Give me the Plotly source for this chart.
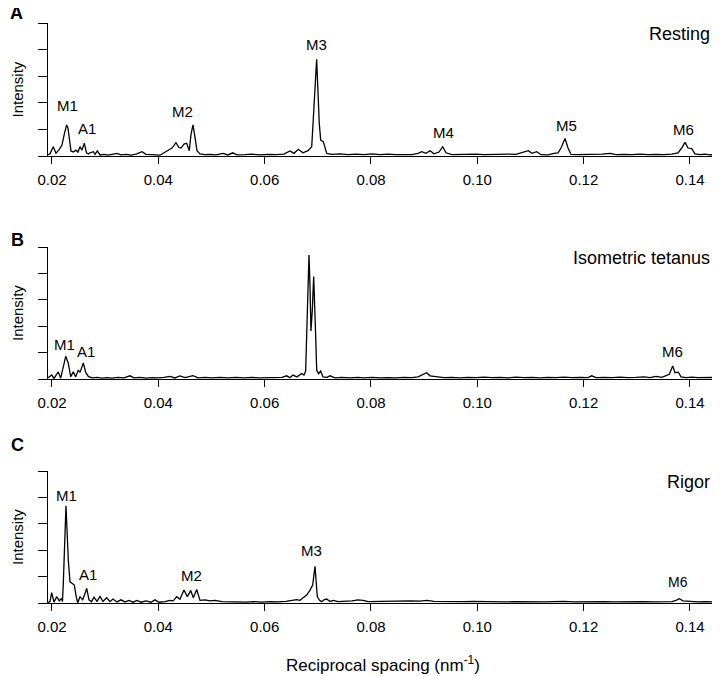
import plotly.graph_objects as go

# reciprocal spacing (nm^-1) and intensity
x_rest = [0.01925, 0.01962, 0.02024, 0.02075, 0.02137, 0.02188, 0.02235, 0.02276, 0.02301, 0.02325,
          0.02357, 0.02401, 0.02451, 0.02489, 0.02527, 0.02564, 0.02608, 0.02649, 0.02687, 0.02715,
          0.02777, 0.02809, 0.02852, 0.02903, 0.02978, 0.03053, 0.03129, 0.03223, 0.03298, 0.03392,
          0.03486, 0.03580, 0.03693, 0.03768, 0.03862, 0.03956, 0.04031, 0.04107, 0.04182, 0.04257,
          0.04332, 0.04388, 0.04426, 0.04483, 0.04533, 0.04582, 0.04614, 0.04652, 0.04690, 0.04727,
          0.04784, 0.04878, 0.04972, 0.05085, 0.05216, 0.05310, 0.05399, 0.05480, 0.05630, 0.05762,
          0.05912, 0.06063, 0.06213, 0.06364, 0.06476, 0.06552, 0.06633, 0.06721, 0.06815, 0.06885,
          0.06928, 0.06978, 0.07027, 0.07054, 0.07103, 0.07167, 0.07266, 0.07417, 0.07567, 0.07718,
          0.07868, 0.08019, 0.08169, 0.08320, 0.08470, 0.08620, 0.08771, 0.08884, 0.08954, 0.09035,
          0.09110, 0.09185, 0.09279, 0.09349, 0.09411, 0.09523, 0.09674, 0.09824, 0.09975, 0.10125,
          0.10276, 0.10426, 0.10577, 0.10727, 0.10840, 0.10959, 0.11028, 0.11117, 0.11198, 0.11329,
          0.11442, 0.11518, 0.11574, 0.11649, 0.11706, 0.11762, 0.11894, 0.12044, 0.12194, 0.12345,
          0.12495, 0.12608, 0.12759, 0.12909, 0.13060, 0.13210, 0.13361, 0.13511, 0.13662, 0.13775,
          0.13844, 0.13906, 0.13963, 0.14032, 0.14094, 0.14188, 0.14282, 0.14376, 0.14470, 0.14508]
i_rest = [0.05, 0.08, 0.35, 0.10, 0.25, 0.41, 0.85, 1.17, 1.05, 0.60,
          0.19, 0.15, 0.22, 0.15, 0.35, 0.22, 0.48, 0.12, 0.08, 0.12,
          0.16, 0.06, 0.19, 0.04, 0.06, 0.03, 0.07, 0.10, 0.04, 0.06,
          0.03, 0.07, 0.16, 0.06, 0.05, 0.04, 0.03, 0.12, 0.20, 0.30,
          0.50, 0.32, 0.30, 0.45, 0.48, 0.20, 0.80, 1.17, 0.70, 0.20,
          0.08, 0.05, 0.06, 0.04, 0.10, 0.04, 0.12, 0.04, 0.05, 0.07,
          0.04, 0.06, 0.05, 0.07, 0.19, 0.10, 0.25, 0.12, 0.20, 0.35,
          1.85, 3.64, 1.23, 0.60, 0.54, 0.10, 0.06, 0.08, 0.05, 0.07,
          0.05, 0.08, 0.05, 0.07, 0.05, 0.06, 0.05, 0.10, 0.16, 0.10,
          0.20, 0.08, 0.15, 0.35, 0.12, 0.05, 0.06, 0.05, 0.07, 0.05,
          0.06, 0.05, 0.07, 0.06, 0.12, 0.20, 0.10, 0.16, 0.05, 0.04,
          0.10, 0.12, 0.30, 0.66, 0.30, 0.06, 0.05, 0.06, 0.05, 0.07,
          0.10, 0.05, 0.06, 0.05, 0.07, 0.05, 0.06, 0.05, 0.07, 0.12,
          0.30, 0.51, 0.30, 0.28, 0.08, 0.05, 0.07, 0.04, 0.06, 0.05]

x_tet = [0.01925, 0.01994, 0.02038, 0.02118, 0.02164, 0.02201, 0.02231, 0.02258, 0.02307, 0.02352,
         0.02401, 0.02446, 0.02495, 0.02527, 0.02589, 0.02634, 0.02683, 0.02752, 0.02846, 0.02940,
         0.03034, 0.03129, 0.03241, 0.03354, 0.03467, 0.03542, 0.03655, 0.03768, 0.03881, 0.03994,
         0.04107, 0.04219, 0.04313, 0.04407, 0.04502, 0.04652, 0.04746, 0.04878, 0.05009, 0.05160,
         0.05310, 0.05461, 0.05611, 0.05762, 0.05912, 0.06063, 0.06213, 0.06326, 0.06414, 0.06476,
         0.06533, 0.06608, 0.06696, 0.06739, 0.06771, 0.06790, 0.06815, 0.06834, 0.06853, 0.06871,
         0.06896, 0.06922, 0.06952, 0.06979, 0.07013, 0.07054, 0.07097, 0.07172, 0.07229, 0.07323,
         0.07454, 0.07605, 0.07755, 0.07868, 0.08019, 0.08169, 0.08320, 0.08470, 0.08620, 0.08771,
         0.08884, 0.08978, 0.09048, 0.09110, 0.09223, 0.09373, 0.09523, 0.09674, 0.09824, 0.09975,
         0.10125, 0.10276, 0.10426, 0.10577, 0.10727, 0.10878, 0.11028, 0.11179, 0.11329, 0.11480,
         0.11630, 0.11781, 0.11931, 0.12081, 0.12151, 0.12232, 0.12382, 0.12533, 0.12683, 0.12834,
         0.12984, 0.13135, 0.13248, 0.13361, 0.13473, 0.13548, 0.13611, 0.13675, 0.13718, 0.13780,
         0.13831, 0.13925, 0.14038, 0.14151, 0.14263, 0.14376, 0.14508]
i_tet = [0.05, 0.15, 0.02, 0.27, 0.03, 0.34, 0.70, 0.86, 0.60, 0.09,
         0.27, 0.08, 0.34, 0.25, 0.61, 0.25, 0.10, 0.04, 0.06, 0.03,
         0.05, 0.03, 0.06, 0.04, 0.12, 0.04, 0.06, 0.03, 0.05, 0.04,
         0.06, 0.10, 0.04, 0.12, 0.05, 0.13, 0.04, 0.06, 0.04, 0.06,
         0.04, 0.06, 0.04, 0.06, 0.04, 0.05, 0.04, 0.06, 0.12, 0.05,
         0.15, 0.08, 0.21, 0.15, 0.30, 1.47, 3.72, 4.70, 3.50, 1.82,
         2.60, 3.88, 2.10, 0.34, 0.20, 0.30, 0.08, 0.06, 0.12, 0.04,
         0.06, 0.04, 0.06, 0.04, 0.06, 0.04, 0.05, 0.04, 0.06, 0.05,
         0.08, 0.16, 0.24, 0.12, 0.08, 0.05, 0.06, 0.04, 0.06, 0.05,
         0.07, 0.05, 0.06, 0.04, 0.07, 0.05, 0.06, 0.04, 0.06, 0.05,
         0.07, 0.05, 0.06, 0.05, 0.12, 0.05, 0.06, 0.05, 0.07, 0.05,
         0.06, 0.08, 0.05, 0.10, 0.06, 0.12, 0.18, 0.49, 0.24, 0.26,
         0.08, 0.05, 0.07, 0.05, 0.06, 0.05, 0.06]

x_rig = [0.01925, 0.01962, 0.01994, 0.02038, 0.02088, 0.02137, 0.02182, 0.02197, 0.02213, 0.02263,
         0.02307, 0.02339, 0.02382, 0.02420, 0.02451, 0.02483, 0.02527, 0.02577, 0.02611, 0.02653,
         0.02696, 0.02743, 0.02790, 0.02846, 0.02903, 0.02959, 0.03029, 0.03091, 0.03147, 0.03223,
         0.03298, 0.03373, 0.03448, 0.03524, 0.03599, 0.03674, 0.03768, 0.03862, 0.03937, 0.04013,
         0.04125, 0.04219, 0.04281, 0.04345, 0.04407, 0.04445, 0.04483, 0.04545, 0.04609, 0.04658,
         0.04722, 0.04784, 0.04878, 0.04972, 0.05066, 0.05197, 0.05348, 0.05498, 0.05649, 0.05799,
         0.05950, 0.06100, 0.06251, 0.06401, 0.06514, 0.06602, 0.06665, 0.06721, 0.06790, 0.06853,
         0.06903, 0.06947, 0.06990, 0.07032, 0.07073, 0.07116, 0.07167, 0.07229, 0.07291, 0.07379,
         0.07511, 0.07643, 0.07755, 0.07850, 0.07944, 0.08094, 0.08244, 0.08395, 0.08545, 0.08733,
         0.08922, 0.09048, 0.09185, 0.09373, 0.09561, 0.09749, 0.09937, 0.10125, 0.10313, 0.10501,
         0.10689, 0.10878, 0.11066, 0.11254, 0.11442, 0.11630, 0.11818, 0.12006, 0.12194, 0.12382,
         0.12570, 0.12759, 0.12947, 0.13135, 0.13323, 0.13511, 0.13662, 0.13737, 0.13799, 0.13868,
         0.14000, 0.14151, 0.14301, 0.14508]
i_rig = [0.02, 0.05, 0.39, 0.03, 0.24, 0.08, 0.18, 0.05, 0.74, 3.68,
         1.62, 0.80, 0.74, 0.68, 0.30, 0.00, 0.24, 0.12, 0.30, 0.55,
         0.12, 0.05, 0.22, 0.06, 0.25, 0.06, 0.20, 0.05, 0.15, 0.04,
         0.12, 0.04, 0.10, 0.03, 0.10, 0.03, 0.08, 0.03, 0.12, 0.03,
         0.05, 0.10, 0.08, 0.24, 0.14, 0.30, 0.49, 0.24, 0.47, 0.20,
         0.51, 0.10, 0.12, 0.08, 0.10, 0.05, 0.04, 0.05, 0.03, 0.05,
         0.03, 0.05, 0.04, 0.06, 0.10, 0.13, 0.10, 0.20, 0.30, 0.49,
         0.68, 1.39, 0.24, 0.10, 0.05, 0.12, 0.15, 0.06, 0.10, 0.05,
         0.06, 0.08, 0.12, 0.10, 0.05, 0.06, 0.05, 0.06, 0.07, 0.08,
         0.07, 0.10, 0.06, 0.05, 0.06, 0.05, 0.06, 0.05, 0.06, 0.04,
         0.05, 0.04, 0.05, 0.04, 0.05, 0.06, 0.04, 0.05, 0.04, 0.05,
         0.04, 0.05, 0.04, 0.05, 0.04, 0.05, 0.05, 0.10, 0.16, 0.08,
         0.05, 0.04, 0.05, 0.04]

# peak labels (text, x, y) per panel
lab_rest = [("M1", 0.0230, 1.88), ("A1", 0.0266, 1.02), ("M2", 0.0445, 1.69), ("M3", 0.0697, 4.21),
            ("M4", 0.0937, 0.90), ("M5", 0.1167, 1.13), ("M6", 0.1387, 1.00)]
lab_tet = [("M1", 0.0224, 1.32), ("A1", 0.0264, 1.05), ("M3", 0.0687, 5.26), ("M6", 0.1368, 1.05)]
lab_rig = [("M1", 0.0228, 4.06), ("A1", 0.0268, 1.09), ("M2", 0.0463, 1.05), ("M3", 0.0689, 1.99),
           ("M6", 0.1377, 0.79)]

conditions = ["Resting", "Isometric tetanus", "Rigor"]
letters = ["A", "B", "C"]
x_ticks = [0.02, 0.04, 0.06, 0.08, 0.10, 0.12, 0.14]

# the page body has an 8px margin, so the figure is drawn 8px in from the window corner
OFF = 8
W, H = 712, 668
L, R = 40, 3
FONT = "Liberation Sans, Arial, Helvetica, sans-serif"
# panel (top px, bottom px) in window pixels
panels = [(23, 156), (247, 379), (471, 603)]


def px(X):
    return (X - OFF - L) / (W - L - R)


def py(Y):
    return 1 - (Y - OFF) / H


fig = go.Figure()
layout = dict(width=W, height=H, margin=dict(l=L, r=R, t=0, b=0),
              plot_bgcolor="white", paper_bgcolor="white", showlegend=False,
              font=dict(family=FONT, color="black"))
annotations = []

data = [(x_rest, i_rest, lab_rest), (x_tet, i_tet, lab_tet), (x_rig, i_rig, lab_rig)]
for k, (xs, ys, labs) in enumerate(data):
    n = "" if k == 0 else str(k + 1)
    top, bot = panels[k]
    fig.add_trace(go.Scatter(x=xs, y=ys, mode="lines", xaxis="x" + n, yaxis="y" + n,
                             line=dict(color="black", width=1.3)))
    layout["xaxis" + n] = dict(domain=[0, 1], anchor="y" + n, range=[0.01925, 0.14508],
                               tickvals=x_ticks, tickformat=".2f", ticks="outside", ticklen=7,
                               tickcolor="black", showline=True, linecolor="black", linewidth=1,
                               showgrid=False, zeroline=False, tickfont=dict(size=15),
                               ticklabelstandoff=3)
    layout["yaxis" + n] = dict(domain=[py(bot), py(top)], anchor="x" + n, range=[0, 5],
                               tickvals=[0, 1, 2, 3, 4, 5], showticklabels=False, ticks="outside",
                               ticklen=9, tickcolor="black", showline=True, linecolor="black",
                               linewidth=1, showgrid=False, zeroline=False)
    for txt, lx, ly in labs:
        small = (k == 2 and txt == "M6")
        annotations.append(dict(text=txt, x=lx, y=ly, xref="x" + n, yref="y" + n, showarrow=False,
                                font=dict(size=14 if small else 15), xanchor="center", yanchor="middle"))
    annotations.append(dict(text=conditions[k], x=px(712), y=py(top + 11), xref="paper",
                            yref="paper", showarrow=False, xanchor="right", yanchor="middle",
                            font=dict(size=18)))
    annotations.append(dict(text="Intensity", x=px(17), y=py((top + bot) / 2), xref="paper",
                            yref="paper", showarrow=False, textangle=-90, xanchor="center",
                            yanchor="middle", font=dict(size=15)))

letter_pos = [(8, 13), (9, 240), (9, 445)]
for k, (lx, ly) in enumerate(letter_pos):
    annotations.append(dict(text="<b>" + letters[k] + "</b>", x=px(lx), y=py(ly), xref="paper",
                            yref="paper", showarrow=False, xanchor="left", yanchor="middle",
                            font=dict(size=18)))

annotations.append(dict(text="Reciprocal spacing (nm<sup>-1</sup>)", x=px(383), y=py(664),
                        xref="paper", yref="paper", showarrow=False, xanchor="center",
                        yanchor="middle", font=dict(size=17)))

layout["annotations"] = annotations
fig.update_layout(**layout)
fig.write_html("out.html")
